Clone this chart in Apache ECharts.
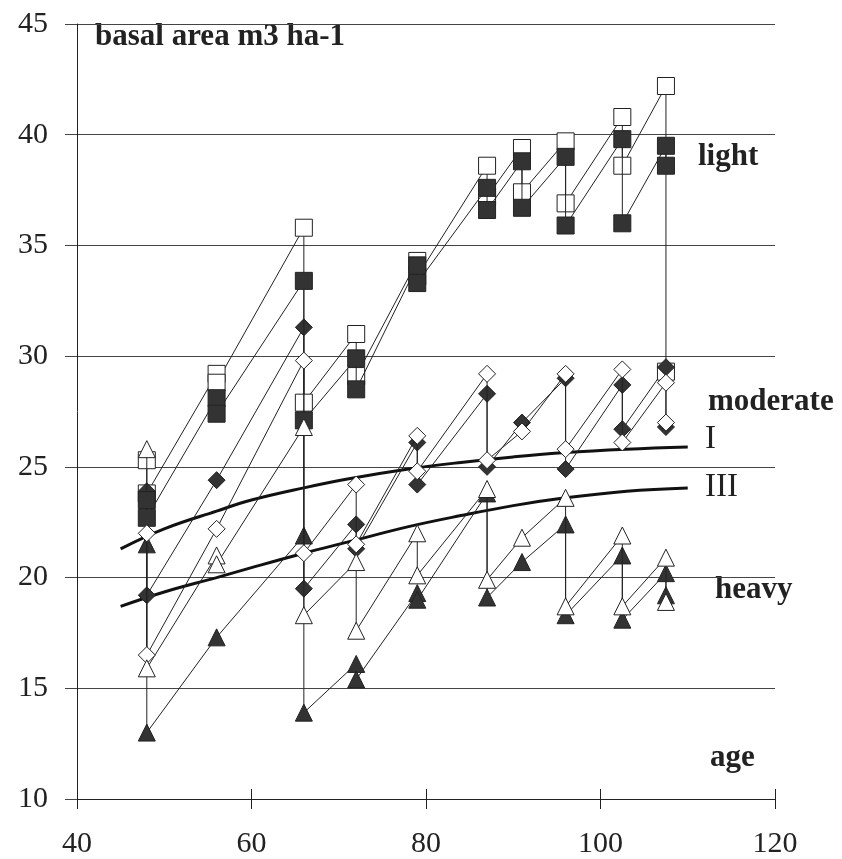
<!DOCTYPE html>
<html>
<head>
<meta charset="utf-8">
<script src="https://cdn.jsdelivr.net/npm/echarts@6/dist/echarts.min.js"></script>
<style>
html,body{margin:0;padding:0;background:#fff;}
#chart{width:842px;height:859px;}
</style>
</head>
<body>
<div id="chart"></div>
<script>
// Thinning ages (x) — each plot has a value before and (if thinned) after thinning
const ages = [48, 56, 66, 72, 79, 87, 91, 96, 102.5, 107.5];

// Light thinning (squares)
const lightOpenBefore   = [25.3, 29.2, 35.8, 31.0, 34.3, 38.6, 39.4, 39.7, 40.8, 42.2];
const lightOpenAfter    = [23.8, 28.8, 27.9, 29.1, 33.6, 37.2, 37.4, 36.9, 38.6, 29.3];
const lightFilledBefore = [23.5, 28.1, 33.4, 29.9, 34.1, 37.6, 38.8, 39.0, 39.8, 39.5];
const lightFilledAfter  = [22.7, 27.4, 27.1, 28.5, 33.3, 36.6, 36.7, 35.9, 36.0, 38.6];

// Moderate thinning (diamonds)
const modOpenBefore   = [22.0, 22.2, 29.8, 24.2, 26.4, 29.2, 26.6, 29.2, 29.4, 28.8];
const modOpenAfter    = [16.5, null, 21.1, 21.5, 24.8, 25.3, null, 25.8, 26.1, 27.0];
const modFilledBefore = [23.9, 24.4, 31.3, 22.4, 26.1, 28.3, 27.0, 29.0, 28.7, 29.5];
const modFilledAfter  = [19.2, null, 19.5, 21.3, 24.2, 25.0, null, 24.9, 26.7, 26.8];

// Heavy thinning (triangles)
const heavyOpenBefore   = [25.8, 21.0, 26.8, 20.7, 22.0, 24.0, 21.8, 23.6, 21.9, 20.9];
const heavyOpenAfter    = [15.9, 20.6, 18.3, 17.6, 20.1, 19.9, null, 18.7, 18.7, 18.9];
const heavyFilledBefore = [21.5, 17.3, 21.9, 16.1, 19.3, 23.8, 20.7, 22.4, 21.0, 20.2];
const heavyFilledAfter  = [13.0, null, 13.9, 15.4, 19.0, 19.1, null, 18.3, 18.1, 19.2];

// Reference curves (yield classes I and III)
const curveAges = [45, 50, 56, 60, 66, 71, 78, 84, 90, 96, 103, 110];
const curveI    = [21.3, 22.2, 23.0, 23.5, 24.05, 24.45, 24.9, 25.2, 25.45, 25.65, 25.8, 25.9];
const curveIII  = [18.7, 19.35, 20.0, 20.45, 21.1, 21.6, 22.3, 22.8, 23.25, 23.6, 23.9, 24.05];

// Axis ticks
const xTicks = {min: 40, max: 120, interval: 20};
const yTicks = {min: 10, max: 45, interval: 5};

function sawtooth(before, after) {
  const pts = [];
  ages.forEach((a, i) => {
    pts.push([a, before[i]]);
    if (after[i] !== null && after[i] !== undefined) pts.push([a, after[i]]);
  });
  return pts;
}

const SERIF = '"Liberation Serif", "DejaVu Serif", serif';
const INK = '#222';

function plotSeries(name, before, after, symbol, filled, size, z) {
  return {
    name: name,
    type: 'line',
    data: sawtooth(before, after),
    symbol: symbol,
    symbolSize: size,
    showAllSymbol: true,
    lineStyle: {color: INK, width: 1},
    itemStyle: {color: filled ? '#333' : '#fff', borderColor: INK, borderWidth: 1},
    emphasis: {disabled: true},
    animation: false,
    z: z
  };
}

function curveSeries(name, vals) {
  return {
    name: name,
    type: 'line',
    data: curveAges.map((a, i) => [a, vals[i]]),
    smooth: 0.4,
    symbol: 'none',
    lineStyle: {color: '#111', width: 3},
    animation: false,
    z: 2
  };
}

function label(text, x, y, bold) {
  return {
    type: 'text', x: x, y: y,
    style: {text: text, font: (bold ? 'bold 31px ' : '33px ') + SERIF, fill: INK,
            align: 'left', verticalAlign: 'middle'}
  };
}

const chart = echarts.init(document.getElementById('chart'));
chart.setOption({
  backgroundColor: '#fff',
  animation: false,
  grid: {left: 77, right: 67, top: 24, bottom: 60},
  xAxis: [{
    type: 'value',
    min: xTicks.min, max: xTicks.max, interval: xTicks.interval,
    axisLine: {show: true, lineStyle: {color: INK, width: 1}},
    axisTick: {show: true, length: 10, lineStyle: {color: INK}},
    axisLabel: {fontFamily: SERIF, fontSize: 30, color: INK, margin: 30},
    splitLine: {show: false}
  }, {
    type: 'value', position: 'bottom',
    min: xTicks.min, max: xTicks.max, interval: xTicks.interval,
    axisLine: {show: false},
    axisTick: {show: true, inside: true, length: 10, lineStyle: {color: INK}},
    axisLabel: {show: false},
    splitLine: {show: false}
  }],
  yAxis: {
    type: 'value',
    min: yTicks.min, max: yTicks.max, interval: yTicks.interval,
    axisLine: {show: true, lineStyle: {color: INK, width: 1}},
    axisTick: {show: true, length: 12, lineStyle: {color: '#444'}},
    axisLabel: {fontFamily: SERIF, fontSize: 30, color: INK, margin: 29},
    splitLine: {show: true, lineStyle: {color: '#444', width: 1}}
  },
  series: [
    curveSeries('I', curveI),
    curveSeries('III', curveIII),
    plotSeries('light (open)', lightOpenBefore, lightOpenAfter, 'rect', false, 17, 3),
    plotSeries('light (filled)', lightFilledBefore, lightFilledAfter, 'rect', true, 17, 4),
    plotSeries('moderate (filled)', modFilledBefore, modFilledAfter, 'diamond', true, 17, 3),
    plotSeries('moderate (open)', modOpenBefore, modOpenAfter, 'diamond', false, 17, 4),
    plotSeries('heavy (filled)', heavyFilledBefore, heavyFilledAfter, 'triangle', true, 17, 3),
    plotSeries('heavy (open)', heavyOpenBefore, heavyOpenAfter, 'triangle', false, 17, 4)
  ],
  graphic: [
    label('basal area m3 ha-1', 95, 37, true),
    label('light', 698, 157, true),
    label('moderate', 708, 402, true),
    label('I', 705, 439, false),
    label('III', 705, 487, false),
    label('heavy', 715, 590, true),
    label('age', 710, 758, true)
  ]
});
</script>
</body>
</html>
